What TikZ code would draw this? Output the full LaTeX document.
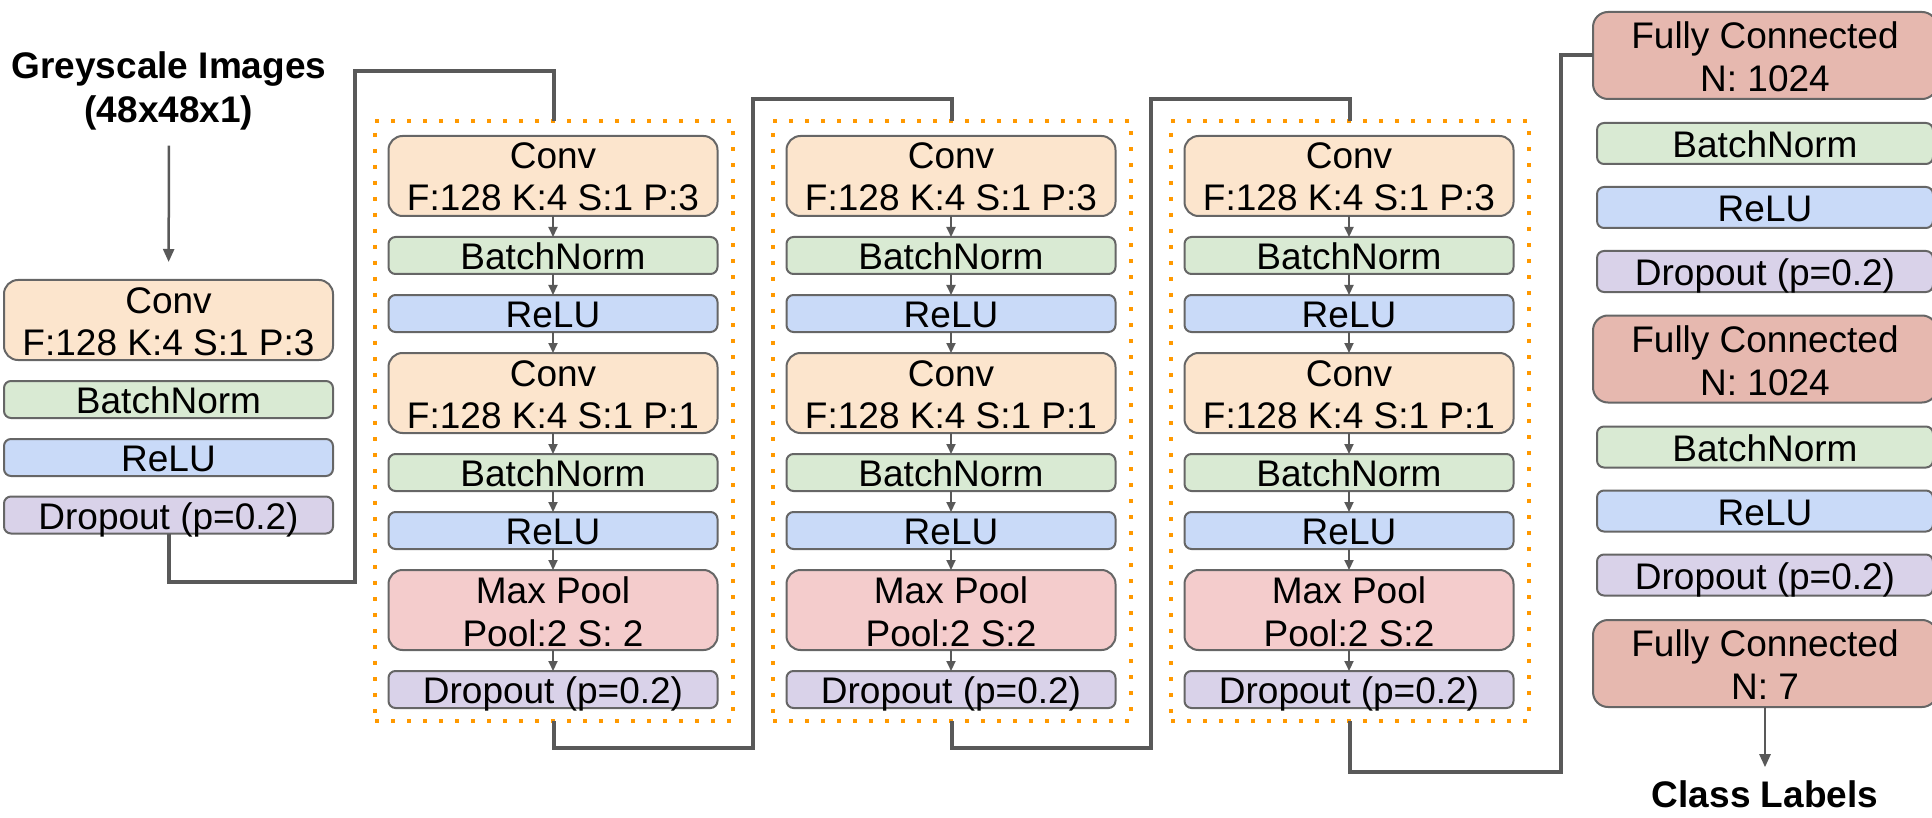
\documentclass[tikz,border=0pt]{standalone}
\usepackage{fontspec}
\setmainfont{Liberation Sans}
\usetikzlibrary{arrows.meta}
\definecolor{convc}{HTML}{FCE5CD}
\definecolor{bnc}{HTML}{D9EAD3}
\definecolor{reluc}{HTML}{C9DAF8}
\definecolor{dropc}{HTML}{D9D2E9}
\definecolor{poolc}{HTML}{F4CCCC}
\definecolor{fcc}{HTML}{E6B8AF}
\definecolor{edgec}{HTML}{666666}
\definecolor{linec}{HTML}{595959}
\definecolor{orangec}{HTML}{FF9900}
\begin{document}
\begin{tikzpicture}[x=1pt,y=-1pt,
  every node/.style={inner sep=0pt, outer sep=0pt},
  lay/.style={draw=edgec, line width=2pt, text height=28pt, text depth=0pt,
    font=\fontsize{37}{44}\selectfont},
  smallbox/.style={lay, rounded corners=7pt, minimum height=37pt},
  tallbox/.style={lay, rounded corners=14pt, minimum height=80pt},
  rsmall/.style={lay, rounded corners=7pt, minimum height=41pt, minimum width=336pt},
  fcbox/.style={lay, rounded corners=15pt, minimum height=87pt, minimum width=344pt, fill=fcc},
  txt/.style={anchor=base, font=\fontsize{37}{44}\selectfont},
  btxt/.style={anchor=base, font=\fontsize{37}{44}\selectfont\bfseries},
  dotbox/.style={draw=orangec, line width=4pt, dash pattern=on 4pt off 12pt,
    minimum width=358pt, minimum height=600pt},
  conn/.style={draw=linec, line width=4pt},
  inarr/.style={draw=linec, line width=2pt, -{Triangle[width=9pt,length=10pt]}},
  bigarr/.style={draw=linec, line width=2.5pt, -{Triangle[width=11pt,length=13pt]}}
]
\useasboundingbox (0,0) rectangle (1932,818);

% input label
\node[btxt] (gi1) at (169,79) {Greyscale Images};
\node[btxt] (gi2) at (169,123) {(48x48x1)};

% left column
\node[tallbox, fill=convc, minimum width=329pt] (lconv) at (168.5,320) {};
\node[txt] (lconvt1) at (168.5,313) {Conv};
\node[txt] (lconvt2) at (168.5,355) {F:128 K:4 S:1 P:3};
\node[smallbox, fill=bnc, minimum width=329pt] (lbn) at (168.5,399.5) {BatchNorm};
\node[smallbox, fill=reluc, minimum width=329pt] (lrelu) at (168.5,457.5) {ReLU};
\node[smallbox, fill=dropc, minimum width=329pt] (ldo) at (168.5,515) {Dropout (p=0.2)};

\draw[bigarr, shorten <=15pt, shorten >=18pt] (gi2) -- (lconv);

% three convolution blocks
\foreach \i/\cx/\mp in {1/553/{Pool:2 S: 2},2/951/{Pool:2 S:2},3/1349/{Pool:2 S:2}} {
  \node[dotbox] (g\i) at ({\cx+1},421) {};
  \node[tallbox, fill=convc, minimum width=329pt] (c\i-conv1) at (\cx,176) {};
  \node[txt] (c\i-conv1a) at (\cx,169) {Conv};
  \node[txt] (c\i-conv1b) at (\cx,211) {F:128 K:4 S:1 P:3};
  \node[smallbox, fill=bnc, minimum width=329pt] (c\i-bn1) at (\cx,255.5) {BatchNorm};
  \node[smallbox, fill=reluc, minimum width=329pt] (c\i-relu1) at (\cx,313.5) {ReLU};
  \node[tallbox, fill=convc, minimum width=329pt] (c\i-conv2) at (\cx,393) {};
  \node[txt] (c\i-conv2a) at (\cx,386) {Conv};
  \node[txt] (c\i-conv2b) at (\cx,428) {F:128 K:4 S:1 P:1};
  \node[smallbox, fill=bnc, minimum width=329pt] (c\i-bn2) at (\cx,472.5) {BatchNorm};
  \node[smallbox, fill=reluc, minimum width=329pt] (c\i-relu2) at (\cx,530.5) {ReLU};
  \node[tallbox, fill=poolc, minimum width=329pt] (c\i-mp) at (\cx,610) {};
  \node[txt] (c\i-mpa) at (\cx,603) {Max Pool};
  \node[txt] (c\i-mpb) at (\cx,646) {\mp};
  \node[smallbox, fill=dropc, minimum width=329pt] (c\i-do) at (\cx,689.5) {Dropout (p=0.2)};
  \draw[inarr] (c\i-conv1.south) -- (c\i-bn1.north);
  \draw[inarr] (c\i-bn1.south) -- (c\i-relu1.north);
  \draw[inarr] (c\i-relu1.south) -- (c\i-conv2.north);
  \draw[inarr] (c\i-conv2.south) -- (c\i-bn2.north);
  \draw[inarr] (c\i-bn2.south) -- (c\i-relu2.north);
  \draw[inarr] (c\i-relu2.south) -- (c\i-mp.north);
  \draw[inarr] (c\i-mp.south) -- (c\i-do.north);
}

% right column
\node[fcbox] (fc1) at (1765,55.5) {};
\node[txt] (fc1a) at (1765,48.5) {Fully Connected};
\node[txt] (fc1b) at (1765,91.5) {N: 1024};
\node[rsmall, fill=bnc] (rbn1) at (1765,143.5) {BatchNorm};
\node[rsmall, fill=reluc] (rrelu1) at (1765,207.5) {ReLU};
\node[rsmall, fill=dropc] (rdo1) at (1765,271.5) {Dropout (p=0.2)};
\node[fcbox] (fc2) at (1765,359) {};
\node[txt] (fc2a) at (1765,352) {Fully Connected};
\node[txt] (fc2b) at (1765,395) {N: 1024};
\node[rsmall, fill=bnc] (rbn2) at (1765,447) {BatchNorm};
\node[rsmall, fill=reluc] (rrelu2) at (1765,511) {ReLU};
\node[rsmall, fill=dropc] (rdo2) at (1765,575) {Dropout (p=0.2)};
\node[fcbox] (fc3) at (1765,663.5) {};
\node[txt] (fc3a) at (1765,656.5) {Fully Connected};
\node[txt] (fc3b) at (1765,699.5) {N: 7};

\node[btxt] (cl) at (1765,807) {Class Labels};
\draw[bigarr, shorten >=13pt] (fc3) -- (cl);

% connectors between stages
\coordinate (k1) at (355,71);
\coordinate (k2) at (753,99);
\coordinate (k3) at (1151,99);
\coordinate (k4) at (1561,55.5);
\draw[conn] (ldo.south) -- ++(0,48) -| (k1) -| (g1.north);
\draw[conn] (g1.south) -- ++(0,27) -| (k2) -| (g2.north);
\draw[conn] (g2.south) -- ++(0,27) -| (k3) -| (g3.north);
\draw[conn] (g3.south) -- ++(0,51) -| (k4) -- (fc1.west);
\end{tikzpicture}
\end{document}
